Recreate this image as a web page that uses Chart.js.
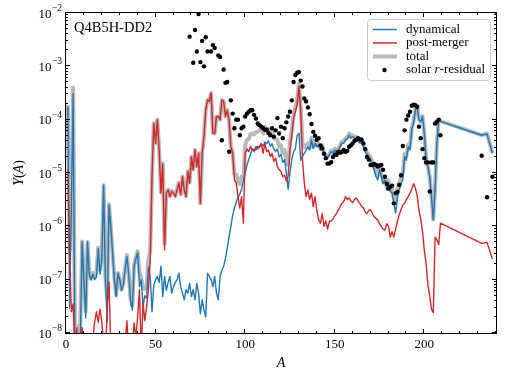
<!DOCTYPE html>
<html><head><meta charset="utf-8">
<script src="https://cdn.jsdelivr.net/npm/chart.js@4/dist/chart.umd.min.js"></script>
<style>html,body{margin:0;padding:0;background:#fff;}canvas{display:block;}</style>
</head><body>
<canvas id="c" width="510" height="378"></canvas>
<script>
// mass numbers A
const massNumbers = [
1,2,3,4,5,6,7,8,9,10,11,12,13,14,15,16,17,18,19,20,
21,22,23,24,25,26,27,28,29,30,31,32,33,34,35,36,37,38,39,40,
41,42,43,44,45,46,47,48,49,50,51,52,53,54,55,56,57,58,59,60,
61,62,63,64,65,66,67,68,69,70,71,72,73,74,75,76,77,78,79,80,
81,82,83,84,85,86,87,88,89,90,91,92,93,94,95,96,97,98,99,100,
101,102,103,104,105,106,107,108,109,110,111,112,113,114,115,116,117,118,119,120,
121,122,123,124,125,126,127,128,129,130,131,132,133,134,135,136,137,138,139,140,
141,142,143,144,145,146,147,148,149,150,151,152,153,154,155,156,157,158,159,160,
161,162,163,164,165,166,167,168,169,170,171,172,173,174,175,176,177,178,179,180,
181,182,183,184,185,186,187,188,189,190,191,192,193,194,195,196,197,198,199,200,
201,202,203,204,205,206,207,208,209,232,235,238];

const dynamical = [
1.74e-4,2.95e-8,2.5e-6,3.1e-4,2.5e-9,1e-9,5e-9,6.3e-9,5.1e-7,1.0e-7,
1.9e-8,5.1e-7,1.23e-7,1.0e-7,1.26e-7,1.0e-7,1.12e-7,3.8e-7,1.26e-7,2.5e-7,
5.9e-6,1.0e-7,1.6e-8,2.5e-6,1.0e-6,3.2e-7,1.0e-7,4.8e-8,1.32e-7,1.0e-7,
6.3e-8,7.9e-8,1.58e-7,2.7e-7,1.26e-7,4.2e-8,2.7e-8,1.74e-7,2.5e-7,3.2e-7,
7.4e-8,1.0e-7,3.2e-8,5.0e-8,4.5e-8,1.74e-7,1.15e-7,2.5e-8,7.9e-8,1.0e-7,
1.15e-7,8.9e-8,1.78e-7,4.8e-8,1.15e-7,6.3e-8,8.9e-8,1.15e-7,5.6e-8,7.4e-8,
8.9e-8,1.0e-7,1.32e-7,7.4e-8,5.6e-8,4.2e-8,6.5e-8,5.6e-8,8.5e-8,4.8e-8,
6.5e-8,4.2e-8,8.5e-8,5.6e-8,2.3e-8,4.2e-8,2.7e-8,2.0e-8,1.32e-7,1.15e-7,
1.0e-7,7.4e-8,1.15e-7,5.6e-8,4.2e-8,1.15e-7,1.5e-7,1.78e-7,2.5e-7,4.0e-7,
6.3e-7,1.0e-6,1.58e-6,2.24e-6,2.8e-6,3.5e-6,4.0e-6,5.0e-6,7.1e-6,1.0e-5,
1.41e-5,1.78e-5,2.24e-5,2.82e-5,2.51e-5,3.16e-5,2.82e-5,3.16e-5,3.55e-5,3.16e-5,
3.8e-5,3.55e-5,3.98e-5,3.16e-5,3.55e-5,2.82e-5,2.51e-5,2.82e-5,2.0e-5,2.24e-5,
1.58e-5,1.78e-5,1.0e-5,5.0e-6,1.0e-5,1.78e-5,2.51e-5,2.82e-5,5.0e-5,5.6e-5,
1.74e-5,2.04e-5,2.34e-5,2.69e-5,3.09e-5,2.69e-5,4.17e-5,2.88e-5,3.63e-5,3.09e-5,
3.39e-5,2.69e-5,3.09e-5,2.19e-5,2.04e-5,1.91e-5,2.19e-5,2.51e-5,2.4e-5,2.69e-5,
2.4e-5,2.69e-5,3.09e-5,3.63e-5,3.63e-5,4.17e-5,4.37e-5,5.13e-5,4.47e-5,4.79e-5,
4.47e-5,4.47e-5,3.98e-5,3.63e-5,3.89e-5,3.16e-5,2.51e-5,2.24e-5,1.95e-5,1.78e-5,
1.41e-5,1.15e-5,8.5e-6,7.4e-6,1.15e-5,8.5e-6,6.3e-6,7.4e-6,4.8e-6,6.3e-6,
4.5e-6,4.2e-6,2.7e-6,1.78e-6,3.6e-6,4.8e-6,6.3e-6,7.4e-6,2.04e-5,1.74e-5,
3.09e-5,2.69e-5,6.5e-5,8.7e-5,1.51e-4,1.74e-4,1.0e-4,9.1e-5,1.15e-4,5.5e-5,
1.74e-5,1.32e-5,8.5e-6,3.6e-6,1.32e-6,4.8e-6,3.6e-5,1.0e-4,9.3e-5,5.1e-5,5.4e-5,2.34e-5];

const postMerger = [
1.2e-5,3.2e-7,2.5e-8,3.5e-8,5e-9,1.26e-8,3e-9,8e-9,1.26e-8,4e-9,
6e-9,2e-9,5e-9,3e-9,8e-9,1.6e-8,2.5e-8,1.6e-8,2.8e-8,1.6e-8,
6e-9,3e-9,3.2e-8,9.1e-8,5e-9,2e-9,6e-9,3e-9,2e-9,4e-9,
2e-9,5e-9,7e-9,1.7e-8,4e-9,2e-9,5e-9,1.55e-8,8e-9,2e-8,
6.5e-8,5e-9,3.6e-8,1.7e-8,3.1e-8,6.5e-8,2.3e-7,8.5e-6,8.5e-5,3.6e-5,
1.0e-4,2.7e-5,4.2e-6,1.5e-5,3.6e-7,4.2e-6,4.8e-6,3.6e-6,4.5e-6,4.2e-6,
3.6e-6,4.8e-6,6.5e-6,3.9e-6,8.5e-6,4.8e-6,3.6e-6,1.07e-5,6.5e-6,2.0e-5,
1.15e-5,2.7e-5,1.32e-5,2.34e-5,2.7e-6,2.34e-5,4.8e-5,1.51e-4,2.34e-4,2.19e-4,
3.16e-4,5.6e-5,5.5e-5,1.15e-4,1.15e-4,1.0e-4,2.34e-4,2.19e-4,1.15e-4,1.51e-4,
1.0e-4,3.1e-5,2.34e-5,7.4e-6,6.5e-6,3.6e-6,2.2e-6,3.6e-6,1.15e-6,2.34e-5,
2.82e-5,2.51e-5,3.16e-5,2.69e-5,2.82e-5,2.69e-5,3.16e-5,3.02e-5,3.55e-5,2.34e-5,
3.55e-5,2.51e-5,2.69e-5,2.04e-5,2.34e-5,1.66e-5,1.9e-5,1.32e-5,1.15e-5,1.07e-5,
8.5e-6,9.1e-6,7.1e-6,8.9e-6,2.7e-5,4.8e-5,1.0e-4,1.41e-4,1.9e-4,4.2e-4,
1.51e-4,1.74e-5,6.5e-6,3.6e-6,4.8e-6,3.2e-6,4.2e-6,2.34e-6,3.6e-6,2.0e-6,
1.32e-6,1.15e-6,1.74e-6,1.0e-6,1.26e-6,8.9e-7,1.23e-6,1.26e-6,1.38e-6,1.58e-6,
1.74e-6,2.04e-6,2.34e-6,2.7e-6,2.9e-6,3.6e-6,3.2e-6,3.4e-6,3.0e-6,2.8e-6,
3.2e-6,3.4e-6,3.0e-6,2.7e-6,2.34e-6,2.2e-6,1.86e-6,1.74e-6,2.0e-6,2.04e-6,
1.74e-6,1.51e-6,1.41e-6,1.32e-6,1.12e-6,1.0e-6,8.9e-7,8.5e-7,1.12e-6,1.0e-6,
6.3e-7,7.9e-7,6.3e-7,8.9e-7,1.26e-6,1.66e-6,2.04e-6,2.5e-6,2.7e-6,3.2e-6,
3.6e-6,4.2e-6,5.0e-6,6.3e-6,5.2e-6,3.8e-6,2.0e-6,1.38e-6,7.9e-7,3.5e-7,
2.0e-7,7.9e-8,5.0e-8,2.8e-8,2.4e-8,6.3e-7,5.6e-7,4.5e-7,1.15e-6,4.8e-7,5.0e-7,2.45e-7];

const total = [
1.9e-4,3.5e-7,2.5e-6,4.0e-4,7.5e-9,1.36e-8,8e-9,1.43e-8,5.2e-7,1.04e-7,
2.5e-8,5.1e-7,1.28e-7,1.03e-7,1.34e-7,1.16e-7,1.37e-7,4.0e-7,1.54e-7,2.7e-7,
5.9e-6,1.03e-7,4.8e-8,2.6e-6,1.0e-6,3.2e-7,1.06e-7,5.1e-8,1.34e-7,1.04e-7,
6.5e-8,8.4e-8,1.65e-7,2.9e-7,1.3e-7,4.4e-8,3.2e-8,1.9e-7,2.6e-7,3.4e-7,
1.39e-7,1.05e-7,6.8e-8,6.7e-8,7.6e-8,2.4e-7,3.45e-7,8.5e-6,8.5e-5,3.6e-5,
1.0e-4,2.7e-5,4.4e-6,1.5e-5,4.75e-7,4.3e-6,4.9e-6,3.7e-6,4.6e-6,4.3e-6,
3.7e-6,4.9e-6,6.6e-6,4.0e-6,8.6e-6,4.8e-6,3.7e-6,1.08e-5,6.6e-6,2.0e-5,
1.16e-5,2.7e-5,1.33e-5,2.35e-5,2.7e-6,2.35e-5,4.8e-5,1.51e-4,2.34e-4,2.19e-4,
3.16e-4,5.6e-5,5.5e-5,1.15e-4,1.15e-4,1.0e-4,2.34e-4,2.19e-4,1.15e-4,1.51e-4,
1.0e-4,3.2e-5,2.5e-5,9.6e-6,9.3e-6,7.1e-6,6.2e-6,8.6e-6,8.3e-6,3.3e-5,
4.2e-5,4.3e-5,5.4e-5,5.5e-5,5.3e-5,5.85e-5,6.0e-5,6.2e-5,7.1e-5,5.5e-5,
7.35e-5,6.1e-5,6.7e-5,5.2e-5,5.9e-5,4.5e-5,4.4e-5,4.1e-5,3.15e-5,3.3e-5,
2.4e-5,2.7e-5,1.7e-5,1.4e-5,3.7e-5,6.6e-5,1.25e-4,1.7e-4,2.4e-4,4.76e-4,
1.7e-4,3.8e-5,3.0e-5,3.05e-5,3.6e-5,3.0e-5,4.6e-5,3.1e-5,4.0e-5,3.3e-5,
3.5e-5,2.8e-5,3.26e-5,2.3e-5,2.17e-5,2.0e-5,2.3e-5,2.64e-5,2.54e-5,2.85e-5,
2.57e-5,2.9e-5,3.3e-5,3.9e-5,3.9e-5,4.5e-5,4.7e-5,5.5e-5,4.8e-5,5.1e-5,
4.8e-5,4.8e-5,4.3e-5,3.9e-5,4.1e-5,3.4e-5,2.7e-5,2.4e-5,2.15e-5,1.98e-5,
1.58e-5,1.3e-5,9.9e-6,8.7e-6,1.26e-5,9.5e-6,7.2e-6,8.3e-6,5.9e-6,7.3e-6,
5.1e-6,5.0e-6,3.3e-6,2.7e-6,4.9e-6,6.5e-6,8.3e-6,9.9e-6,2.3e-5,2.06e-5,
3.45e-5,3.1e-5,7.0e-5,9.3e-5,1.56e-4,1.78e-4,1.02e-4,9.2e-5,1.16e-4,5.5e-5,
1.76e-5,1.33e-5,8.6e-6,3.6e-6,1.34e-6,5.4e-6,3.66e-5,1.0e-4,9.4e-5,5.15e-5,5.45e-5,2.37e-5];

// solar r-process residuals
const solarA = [
69,71,72,73,74,75,76,77,78,79,81,82,83,85,86,87,88,89,90,91,
92,93,94,95,96,97,98,99,100,101,102,103,104,105,106,107,108,109,110,111,
112,113,114,115,116,117,118,119,120,121,122,123,124,125,126,127,128,129,130,131,
132,133,134,135,136,137,138,139,140,141,142,143,144,145,146,147,148,149,150,151,
152,153,154,155,156,157,158,159,160,161,162,163,164,165,166,167,168,169,170,171,
172,173,174,175,176,177,178,179,180,181,182,183,184,185,186,187,188,189,190,191,
192,193,194,195,196,197,198,199,200,201,202,203,204,205,206,207,208,209,232,235,238];
const solarY = [
3.6e-3,1.17e-3,4.8e-3,1.9e-3,9.6e-3,1.2e-3,3.0e-3,1.0e-3,3.5e-3,1.9e-3,1.9e-3,2.5e-3,2.2e-3,1.6e-3,1.5e-3,4.1e-5,8.7e-4,4.9e-4,5.1e-4,2.5e-5,
2.3e-4,1.3e-4,6.9e-5,1.0e-4,1.0e-4,5.1e-5,6.9e-5,7.4e-5,1.15e-4,1.3e-4,1.4e-4,1.5e-4,1.5e-4,1.23e-4,1.05e-4,8.5e-5,7.9e-5,7.4e-5,6.9e-5,6.5e-5,
6.5e-5,5.6e-5,5.1e-5,6.9e-5,4.8e-5,6.3e-5,1.07e-4,5.5e-5,7.4e-5,4.5e-5,6.9e-5,8.9e-5,1.15e-4,1.41e-4,2.3e-4,5.1e-4,6.9e-4,7.6e-4,7.8e-4,5.4e-4,
4.2e-4,2.5e-4,2.2e-4,1.7e-4,1.26e-4,8.3e-5,5.9e-5,5.0e-5,4.2e-5,4.5e-5,3.3e-5,2.9e-5,2.3e-5,1.9e-5,1.5e-5,1.5e-5,1.6e-5,2.0e-5,2.2e-5,2.2e-5,
2.5e-5,2.4e-5,2.5e-5,2.7e-5,2.5e-5,2.6e-5,3.1e-5,3.3e-5,3.6e-5,4.0e-5,4.2e-5,4.5e-5,4.3e-5,4.2e-5,3.6e-5,2.8e-5,2.0e-5,1.78e-5,1.41e-5,1.41e-5,
1.48e-5,1.41e-5,1.32e-5,1.38e-5,1.41e-5,1.15e-5,8.5e-6,6.3e-6,5.1e-6,5.5e-6,5.8e-6,2.7e-6,4.2e-6,4.4e-6,6.0e-6,9.1e-6,3.2e-5,6.3e-5,1.0e-4,1.2e-4,
1.41e-4,1.82e-4,1.9e-4,1.86e-4,1.74e-4,7.4e-5,4.5e-5,2.8e-5,1.9e-5,1.58e-5,1.58e-5,4.5e-6,1.58e-5,1.58e-5,8.5e-5,9.1e-5,1.0e-4,5.1e-5,2.1e-5,3.5e-6,8.5e-6];

const xMajorTicks = [0, 50, 100, 150, 200];
const yMajorExponents = [-8, -7, -6, -5, -4, -3, -2];
const modelLabel = 'Q4B5H-DD2';

const pts = (xs, ys) => xs.map((v, i) => ({x: v, y: ys[i]}));

const SERIF = '"Liberation Serif", "Times New Roman", serif';

const mplAxes = {
  id: 'mplAxes',
  afterDraw(chart) {
    const {ctx, chartArea: a} = chart;
    const xs = chart.scales.x, ys = chart.scales.y;
    ctx.save();
    ctx.strokeStyle = '#000';
    ctx.fillStyle = '#000';
    ctx.lineWidth = 1;
    // frame
    ctx.strokeRect(a.left - 0.5, a.top - 0.5, a.right - a.left + 1, a.bottom - a.top + 1);
    const tick = (x1, y1, x2, y2) => { ctx.beginPath(); ctx.moveTo(x1, y1); ctx.lineTo(x2, y2); ctx.stroke(); };
    // x ticks
    for (let v = 0; v <= 240; v += 10) {
      const p = Math.round(xs.getPixelForValue(v)) - 0.5;
      const len = (v % 50 === 0) ? 4 : 2;
      tick(p, a.bottom, p, a.bottom - len);
      tick(p, a.top, p, a.top + len);
    }
    // y ticks
    for (let e = -8; e <= -2; e++) {
      for (let k = 1; k <= 9; k++) {
        const val = k * Math.pow(10, e);
        if (val > 1.0001e-2) break;
        const p = Math.round(ys.getPixelForValue(val)) - 0.5;
        const len = k === 1 ? 4 : 2;
        tick(a.left, p, a.left + len, p);
        tick(a.right, p, a.right - len, p);
      }
    }
    // x tick labels
    ctx.font = '13px ' + SERIF;
    ctx.textAlign = 'center';
    ctx.textBaseline = 'alphabetic';
    xMajorTicks.forEach(v => ctx.fillText(String(v), xs.getPixelForValue(v), 348));
    // y tick labels 10^e
    yMajorExponents.forEach(e => {
      const yc = ys.getPixelForValue(Math.pow(10, e));
      const sup = '\u2212' + Math.abs(e);
      ctx.font = '9.5px ' + SERIF;
      ctx.textAlign = 'right';
      const ws = ctx.measureText(sup).width;
      ctx.fillText(sup, 62, yc - 2);
      ctx.font = '13px ' + SERIF;
      ctx.fillText('10', 62 - ws - 0.5, yc + 4.5);
    });
    // axis titles
    ctx.font = 'italic 14px ' + SERIF;
    ctx.textAlign = 'center';
    ctx.fillText('A', (a.left + a.right) / 2, 366.5);
    // y title: Y(A) rotated
    ctx.save();
    ctx.translate(23, (a.top + a.bottom) / 2);
    ctx.rotate(-Math.PI / 2);
    const parts = [['Y', true], ['(', false], ['A', true], [')', false]];
    let wtot = 0;
    parts.forEach(([t, it]) => { ctx.font = (it ? 'italic ' : '') + '14px ' + SERIF; wtot += ctx.measureText(t).width; });
    let cx = -wtot / 2;
    ctx.textAlign = 'left';
    parts.forEach(([t, it]) => { ctx.font = (it ? 'italic ' : '') + '14px ' + SERIF; ctx.fillText(t, cx, 0); cx += ctx.measureText(t).width; });
    ctx.restore();
    // model label
    ctx.font = '14.5px ' + SERIF;
    ctx.textAlign = 'left';
    ctx.fillText(modelLabel, 74, 31.5);
    // legend
    const lx = 367.5, ly = 19.5, lw = 123, lh = 61;
    ctx.beginPath();
    ctx.roundRect(lx, ly, lw, lh, 3);
    ctx.fillStyle = 'rgba(255,255,255,0.8)';
    ctx.fill();
    ctx.strokeStyle = '#cccccc';
    ctx.stroke();
    const rows = [29.5, 43, 56.5, 70];
    ctx.lineCap = 'butt';
    const seg = (y, color, w) => { ctx.strokeStyle = color; ctx.lineWidth = w; ctx.beginPath(); ctx.moveTo(373, y); ctx.lineTo(397, y); ctx.stroke(); };
    seg(rows[0], '#1f77b4', 1.5);
    seg(rows[1], '#d62728', 1.5);
    seg(rows[2], 'rgba(128,128,128,0.55)', 4);
    ctx.fillStyle = '#000';
    ctx.beginPath(); ctx.arc(384.5, rows[3], 2.2, 0, Math.PI * 2); ctx.fill();
    ctx.textAlign = 'left';
    ctx.textBaseline = 'middle';
    ctx.font = '13px ' + SERIF;
    ctx.fillText('dynamical', 406, rows[0]);
    ctx.fillText('post-merger', 406, rows[1]);
    ctx.fillText('total', 406, rows[2]);
    let tx = 406;
    ctx.fillText('solar ', tx, rows[3]); tx += ctx.measureText('solar ').width;
    ctx.font = 'italic 13px ' + SERIF;
    ctx.fillText('r', tx, rows[3]); tx += ctx.measureText('r').width;
    ctx.font = '13px ' + SERIF;
    ctx.fillText('-residual', tx, rows[3]);
    ctx.restore();
  }
};

new Chart(document.getElementById('c'), {
  type: 'line',
  data: {
    datasets: [
      {type: 'scatter', label: 'solar r-residual', data: pts(solarA, solarY), showLine: false,
       pointRadius: 2.2, pointBackgroundColor: '#000', pointBorderWidth: 0, clip: 0},
      {label: 'post-merger', data: pts(massNumbers, postMerger), borderColor: '#d62728', borderWidth: 1.4,
       pointRadius: 0, fill: false, borderJoinStyle: 'round', clip: 0},
      {label: 'dynamical', data: pts(massNumbers, dynamical), borderColor: '#1f77b4', borderWidth: 1.4,
       pointRadius: 0, fill: false, borderJoinStyle: 'round', clip: 0},
      {label: 'total', data: pts(massNumbers, total), borderColor: 'rgba(128,128,128,0.55)', borderWidth: 4,
       pointRadius: 0, fill: false, borderJoinStyle: 'round', clip: 0}
    ]
  },
  options: {
    responsive: false,
    animation: false,
    devicePixelRatio: 1,
    layout: {padding: {left: 66, right: 14, top: 13, bottom: 45}},
    plugins: {legend: {display: false}, tooltip: {enabled: false}},
    scales: {
      x: {type: 'linear', min: 0, max: 240, display: false},
      y: {type: 'logarithmic', min: 1e-8, max: 1e-2, display: false}
    },
    elements: {line: {tension: 0}}
  },
  plugins: [mplAxes]
});
</script>
</body></html>
